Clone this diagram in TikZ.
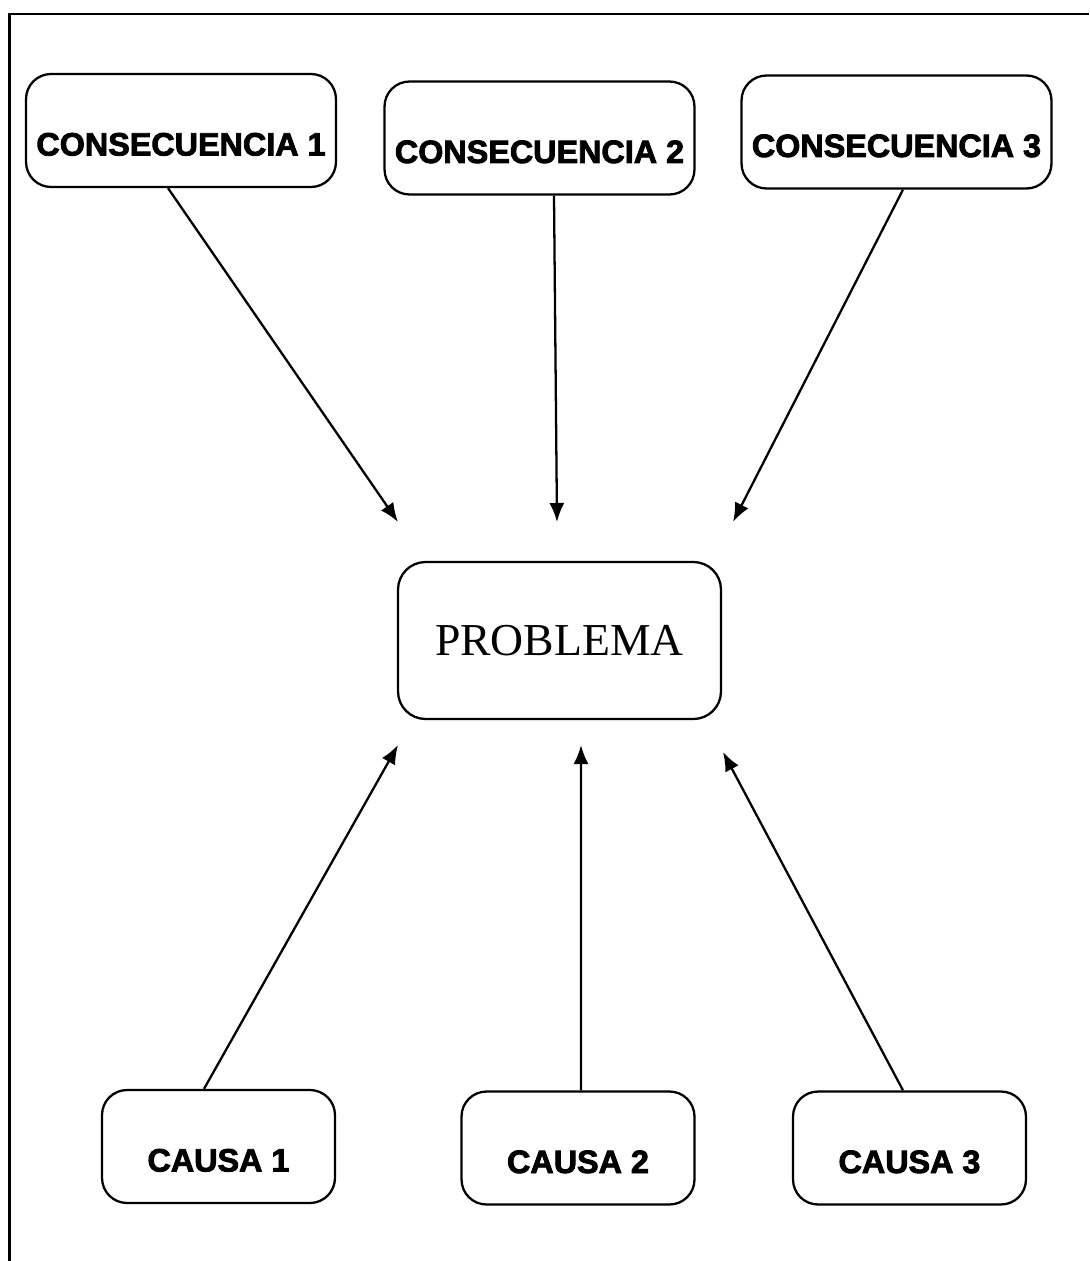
\documentclass[tikz,border=0pt]{standalone}
\usepackage{fontspec}
\setmainfont{Liberation Serif}
\newfontfamily\boxfont[FakeBold=2.6]{Liberation Sans Bold}
\usetikzlibrary{shapes, calc, arrows.meta}

\tikzset{
	roundbox/.style={draw, rectangle, rounded corners=0.5cm, line width=1.3pt,
		text height=1cm, text depth=0pt, font=\boxfont\fontsize{18.4}{22}\selectfont},
	conse/.style={roundbox, minimum width=6.2cm, minimum height=2.26cm},
	causa/.style={roundbox, minimum width=4.66cm, minimum height=2.26cm},
	problem/.style={draw, rectangle, rounded corners=0.55cm, line width=1.3pt,
		minimum width=6.46cm, minimum height=3.14cm, font=\fontsize{26}{30}\selectfont},
	flecha/.style={->, line width=1.3pt, >={Latex[length=0.38cm, width=0.3cm]}}
}

\begin{document}
\begin{tikzpicture}[x=0.02cm, y=-0.02cm]
	\useasboundingbox (0,0) rectangle (1089,1261);
	\draw[line width=1.4pt] (1089,14) -- (9.5,14) -- (9.5,1261);

	\node[problem] (problema) at (559.5,640.5) {PROBLEMA};

	\node[conse] (first)  at (181,130.5) {CONSECUENCIA 1};
	\node[conse] (second) at (539.5,138) {CONSECUENCIA 2};
	\node[conse] (third)  at (896.5,132) {CONSECUENCIA 3};

	\node[causa] (causeone)   at (218.5,1146.5) {CAUSA 1};
	\node[causa] (causetwo)   at (578,1148)     {CAUSA 2};
	\node[causa] (causethree) at (909.5,1148)   {CAUSA 3};

	\coordinate (tipfirst)  at (398,522);
	\coordinate (tipsecond) at (557,522);
	\coordinate (tipthird)  at (733,522);
	\coordinate (tipone)    at (398,745);
	\coordinate (tiptwo)    at (581,745);
	\coordinate (tipthree)  at (723,752);

	\draw[flecha] ([xshift=-0.26cm]first.south)  -- (tipfirst);
	\draw[flecha] ([xshift=0.29cm]second.south)  -- (tipsecond);
	\draw[flecha] ([xshift=0.13cm]third.south)   -- (tipthird);

	\draw[flecha] ([xshift=-0.29cm]causeone.north)  -- (tipone);
	\draw[flecha] ([xshift=0.06cm]causetwo.north)   -- (tiptwo);
	\draw[flecha] ([xshift=-0.13cm]causethree.north) -- (tipthree);
\end{tikzpicture}
\end{document}
